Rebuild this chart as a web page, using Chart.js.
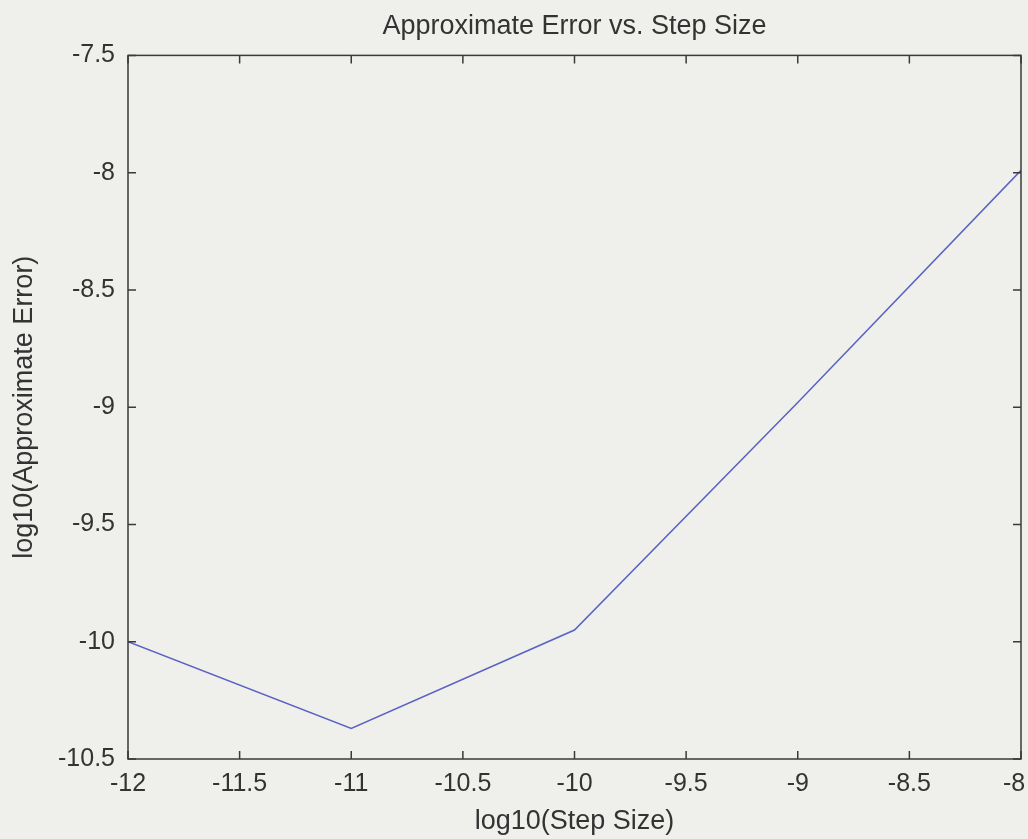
<!DOCTYPE html>
<html>
<head>
<meta charset="utf-8">
<script src="https://cdn.jsdelivr.net/npm/chart.js@4"></script>
<style>
  html, body { margin: 0; padding: 0; background: #efefec; }
  #wrap { width: 1028px; height: 839px; }
</style>
</head>
<body>
<div id="wrap"><canvas id="errChart"></canvas></div>
<script>
const stepSizes = [-12, -11, -10, -9, -8];
const errors = [-10.0, -10.37, -9.95, -8.98, -7.99];
const xTicks = [-12, -11.5, -11, -10.5, -10, -9.5, -9, -8.5, -8];
const yTicks = [-7.5, -8, -8.5, -9, -9.5, -10, -10.5];

const axisColor = "#3a3a3a";
const textColor = "#333333";
const fontFamily = "'Liberation Sans', Arial, sans-serif";

// matlab-style box with inward ticks on all four sides
const boxTicks = {
  id: "boxTicks",
  afterDraw(chart) {
    const { ctx, chartArea: a, scales } = chart;
    const len = 8;
    ctx.save();
    ctx.strokeStyle = axisColor;
    ctx.lineWidth = 1.5;
    ctx.strokeRect(a.left, a.top, a.right - a.left, a.bottom - a.top);
    ctx.beginPath();
    xTicks.forEach((v) => {
      const x = scales.x.getPixelForValue(v);
      ctx.moveTo(x, a.bottom); ctx.lineTo(x, a.bottom - len);
      ctx.moveTo(x, a.top); ctx.lineTo(x, a.top + len);
    });
    yTicks.forEach((v) => {
      const y = scales.y.getPixelForValue(v);
      ctx.moveTo(a.left, y); ctx.lineTo(a.left + len, y);
      ctx.moveTo(a.right, y); ctx.lineTo(a.right - len, y);
    });
    ctx.stroke();
    ctx.restore();
  },
};

new Chart(document.getElementById("errChart"), {
  type: "line",
  data: {
    datasets: [
      {
        data: stepSizes.map((x, i) => ({ x, y: errors[i] })),
        borderColor: "#5a62c4",
        borderWidth: 1.5,
        pointRadius: 0,
        tension: 0,
      },
    ],
  },
  options: {
    responsive: true,
    maintainAspectRatio: false,
    animation: false,
    layout: { padding: { left: 0, right: 7, top: 0, bottom: 0 } },
    plugins: {
      legend: { display: false },
      tooltip: { enabled: false },
      title: {
        display: true,
        fullSize: false,
        text: "Approximate Error vs. Step Size",
        color: textColor,
        font: { family: fontFamily, size: 27, weight: "normal" },
        padding: { top: 10, bottom: 13 },
      },
    },
    scales: {
      x: {
        type: "linear",
        min: -12,
        max: -8,
        afterBuildTicks: (s) => { s.ticks = xTicks.map((v) => ({ value: v })); },
        afterFit: (s) => { s.height = 80; s.paddingLeft = 0; s.paddingRight = 0; },
        grid: { display: false, drawTicks: false },
        border: { display: false },
        ticks: {
          color: textColor,
          font: { family: fontFamily, size: 25 },
          padding: 10,
          maxRotation: 0,
          autoSkip: false,
          // last label sits against the edge, nudge it left
          callback: (v) => (v === -8 ? "-8\u00a0\u00a0" : String(v)),
        },
        title: {
          display: true,
          text: "log10(Step Size)",
          color: textColor,
          font: { family: fontFamily, size: 27 },
          padding: { top: 0, bottom: 1 },
        },
      },
      y: {
        type: "linear",
        min: -10.5,
        max: -7.5,
        afterBuildTicks: (s) => { s.ticks = yTicks.map((v) => ({ value: v })); },
        afterFit: (s) => { s.width = 128; s.paddingTop = 0; s.paddingBottom = 0; },
        grid: { display: false, drawTicks: false },
        border: { display: false },
        ticks: {
          color: textColor,
          font: { family: fontFamily, size: 25 },
          padding: 13,
          autoSkip: false,
          callback: (v) => String(v),
        },
        title: {
          display: true,
          text: "log10(Approximate Error)",
          color: textColor,
          font: { family: fontFamily, size: 27 },
          padding: { top: 8, bottom: 0 },
        },
      },
    },
  },
  plugins: [boxTicks],
});
</script>
</body>
</html>
